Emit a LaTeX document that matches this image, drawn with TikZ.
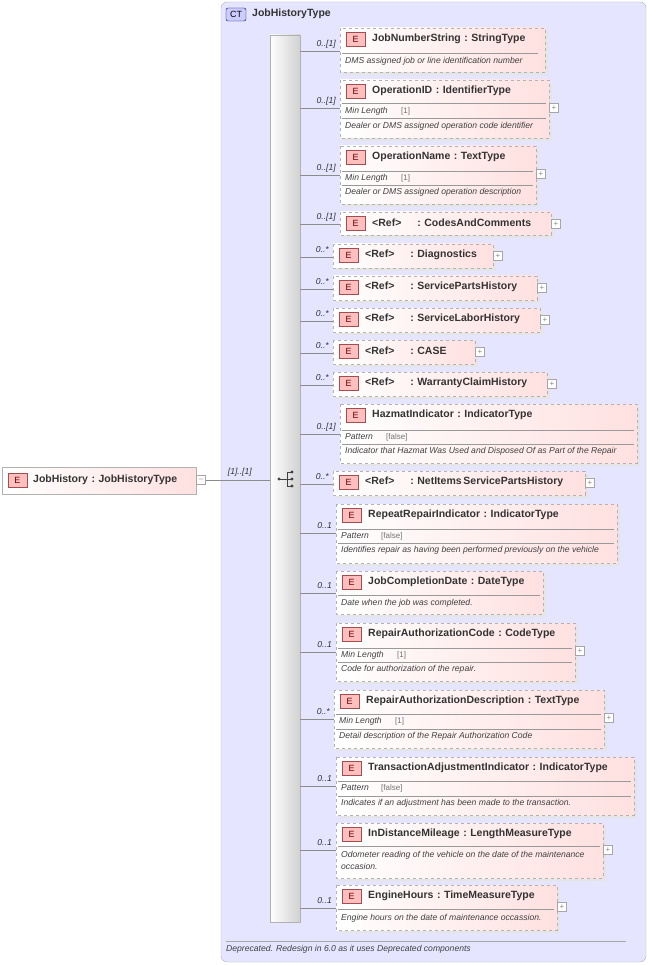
\documentclass[tikz,border=0pt]{standalone}
\usepackage{fontspec}
\setmainfont{Liberation Sans}
\begin{document}
\begin{tikzpicture}[x=1pt,y=-1pt,
  eb/.style={draw=black!30,dashed,left color=white,right color=red!12},
  rb/.style={draw=black!30,left color=white,right color=red!12},
  ttl/.style={anchor=west,inner sep=0,font=\fontsize{10.5}{12}\selectfont\bfseries,text=black!80},
  dsc/.style={anchor=west,inner sep=0,font=\fontsize{8.6}{10}\selectfont\itshape,text=black!75},
  fct/.style={anchor=west,inner sep=0,font=\fontsize{8}{9}\selectfont,text=black!55},
  mul/.style={anchor=east,inner sep=0,font=\fontsize{8.6}{10}\selectfont\itshape,text=black!80},
  ln/.style={draw=black!45,line width=0.5pt},
  pl/.style={draw=black!35,fill=white,minimum size=9pt,inner sep=0,font=\fontsize{8}{8}\selectfont,text=black!45}]
\useasboundingbox (0,0) rectangle (650,965);
\newcommand\eicon[2]{\draw[draw=red!50!black!70,fill=red!25] (#1,#2-7) rectangle (#1+19,#2+7);
  \node[inner sep=0,font=\fontsize{9}{9}\selectfont,text=red!40!black] at (#1+9.5,#2) {E};}
% CT box
\draw[draw=black!30,fill=blue!10,rounded corners=6pt] (221,2) rectangle (646,962);
\draw[draw=blue!40!black,fill=blue!20,rounded corners=2pt] (226,8) rectangle (246,21);
\node[inner sep=0,font=\fontsize{9}{9}\selectfont] at (236,14.5) {CT};
\node[ttl] at (252,14) {JobHistoryType};
\draw[black!35] (226,941) -- (626,941);
\node[dsc] at (226,949) {Deprecated. Redesign in 6.0 as it uses Deprecated components};
% sequence bar
\node[draw=black!30,left color=white,right color=black!18,minimum width=30pt,minimum height=887pt,inner sep=0] (seq) at (285,478.5) {};
\draw[black!75,line width=0.8pt] (279,479) -- (287,479) (287,472) -- (287,486) (287,472) -- (292,472) (287,486) -- (292,486) (287,479)--(292,479);
\fill[black!75] (279,479) circle (1.6) (292,472) circle (1.6) (292,479) circle (1.6) (292,486) circle (1.6);
% root
\draw[rb] (2,467) rectangle (196,494);
\eicon{8}{480.5}
\node[ttl] (root) at (33,480) {JobHistory\,\,:\,\,JobHistoryType};
\node[pl] (rm) at (201,480) {--};
\draw[ln] (rm.east) -- (seq.west |- rm.east);
\node[mul] at (252,472) {[1]..[1]};
% elements
\newcommand\el[8]{\fill[black!10] (#2+3,#3+3) rectangle (#4+3,#5+3);
  \draw[eb] (#2,#3) rectangle (#4,#5);
  \eicon{#2+6}{#3+11}
  \node[ttl] at (#2+32,#3+10.5) {#6};
  \coordinate (#1) at (#2,#8+7);
  \draw[ln] (seq.east |- #1) -- (#1);
  \node[mul] at (#2-4,#8) {#7};}
\newcommand\plus[2]{\node[pl] at (#1,#2) {+};}
\newcommand\hl[3]{\draw[black!40] (#1,#3) -- (#2,#3);}
\el{a}{340}{28}{545}{72}{JobNumberString\,\,:\,\,StringType}{0..[1]}{44}
\hl{342}{538}{53}\node[dsc] at (345,61) {DMS assigned job or line identification number};
\el{b}{340}{80}{549}{138}{OperationID\,\,:\,\,IdentifierType}{0..[1]}{101}
\hl{342}{546}{103}\node[dsc] at (345,111) {Min Length};\node[fct] at (401,111) {[1]};
\hl{342}{546}{118}\node[dsc] at (345,126) {Dealer or DMS assigned operation code identifier};\plus{554}{108}
\el{c}{340}{146}{536}{204}{OperationName\,\,:\,\,TextType}{0..[1]}{168}
\hl{342}{533}{171}\node[dsc] at (345,178) {Min Length};\node[fct] at (401,178) {[1]};
\hl{342}{533}{185}\node[dsc] at (345,192) {Dealer or DMS assigned operation description};\plus{541}{174}
\el{d}{340}{212}{551}{235}{<Ref>\hspace{16pt}:\,\,CodesAndComments}{0..[1]}{217}\plus{556}{224}
\el{e}{333}{244}{493}{268}{<Ref>\hspace{16pt}:\,\,Diagnostics}{0..*}{250}\plus{498}{256}
\el{f}{333}{276}{537}{300}{<Ref>\hspace{16pt}:\,\,ServicePartsHistory}{0..*}{282}\plus{542}{288}
\el{g}{333}{308}{540}{332}{<Ref>\hspace{16pt}:\,\,ServiceLaborHistory}{0..*}{314}\plus{545}{320}
\el{h}{333}{340}{475}{364}{<Ref>\hspace{16pt}:\,\,CASE}{0..*}{346}\plus{480}{352}
\el{i}{333}{372}{547}{396}{<Ref>\hspace{16pt}:\,\,WarrantyClaimHistory}{0..*}{378}\plus{552}{384}
\el{j}{340}{404}{637}{463}{HazmatIndicator\,\,:\,\,IndicatorType}{0..[1]}{427}
\hl{342}{634}{430}\node[dsc] at (345,437) {Pattern};\node[fct] at (386,437) {[false]};
\hl{342}{634}{444}\node[dsc] at (345,451) {Indicator that Hazmat Was Used and Disposed Of as Part of the Repair};
\el{k}{333}{471}{585}{495}{<Ref>\hspace{16pt}:\,\,NetItems\,ServicePartsHistory}{0..*}{477}\plus{590}{483}
\el{l}{336}{504}{617}{563}{RepeatRepairIndicator\,\,:\,\,IndicatorType}{0..1}{526}
\hl{338}{614}{529}\node[dsc] at (341,536) {Pattern};\node[fct] at (381,536) {[false]};
\hl{338}{614}{543}\node[dsc] at (341,550) {Identifies repair as having been performed previously on the vehicle};
\el{m}{336}{571}{543}{614}{JobCompletionDate\,\,:\,\,DateType}{0..1}{586}
\hl{338}{540}{595}\node[dsc] at (341,603) {Date when the job was completed.};
\el{n}{336}{623}{575}{681}{RepairAuthorizationCode\,\,:\,\,CodeType}{0..1}{645}
\hl{338}{572}{648}\node[dsc] at (341,655) {Min Length};\node[fct] at (397,655) {[1]};
\hl{338}{572}{662}\node[dsc] at (341,669) {Code for authorization of the repair.};\plus{580}{651}
\el{o}{334}{690}{604}{748}{RepairAuthorizationDescription\,\,:\,\,TextType}{0..*}{712}
\hl{336}{601}{714}\node[dsc] at (339,721) {Min Length};\node[fct] at (395,721) {[1]};
\hl{336}{601}{729}\node[dsc] at (339,736) {Detail description of the Repair Authorization Code};\plus{609}{718}
\el{p}{336}{757}{634}{815}{TransactionAdjustmentIndicator\,\,:\,\,IndicatorType}{0..1}{779}
\hl{338}{631}{781}\node[dsc] at (341,788) {Pattern};\node[fct] at (381,788) {[false]};
\hl{338}{631}{796}\node[dsc] at (341,803) {Indicates if an adjustment has been made to the transaction.};
\el{q}{336}{823}{603}{878}{InDistanceMileage\,\,:\,\,LengthMeasureType}{0..1}{843}
\hl{338}{600}{846}\node[dsc] at (341,855) {Odometer reading of the vehicle on the date of the maintenance};
\node[dsc] at (341,866) {occasion.};\plus{608}{850}
\el{r}{336}{885}{557}{930}{EngineHours\,\,:\,\,TimeMeasureType}{0..1}{901}
\hl{338}{554}{909}\node[dsc] at (341,918) {Engine hours on the date of maintenance occassion.};\plus{562}{907}
\end{tikzpicture}
\end{document}
